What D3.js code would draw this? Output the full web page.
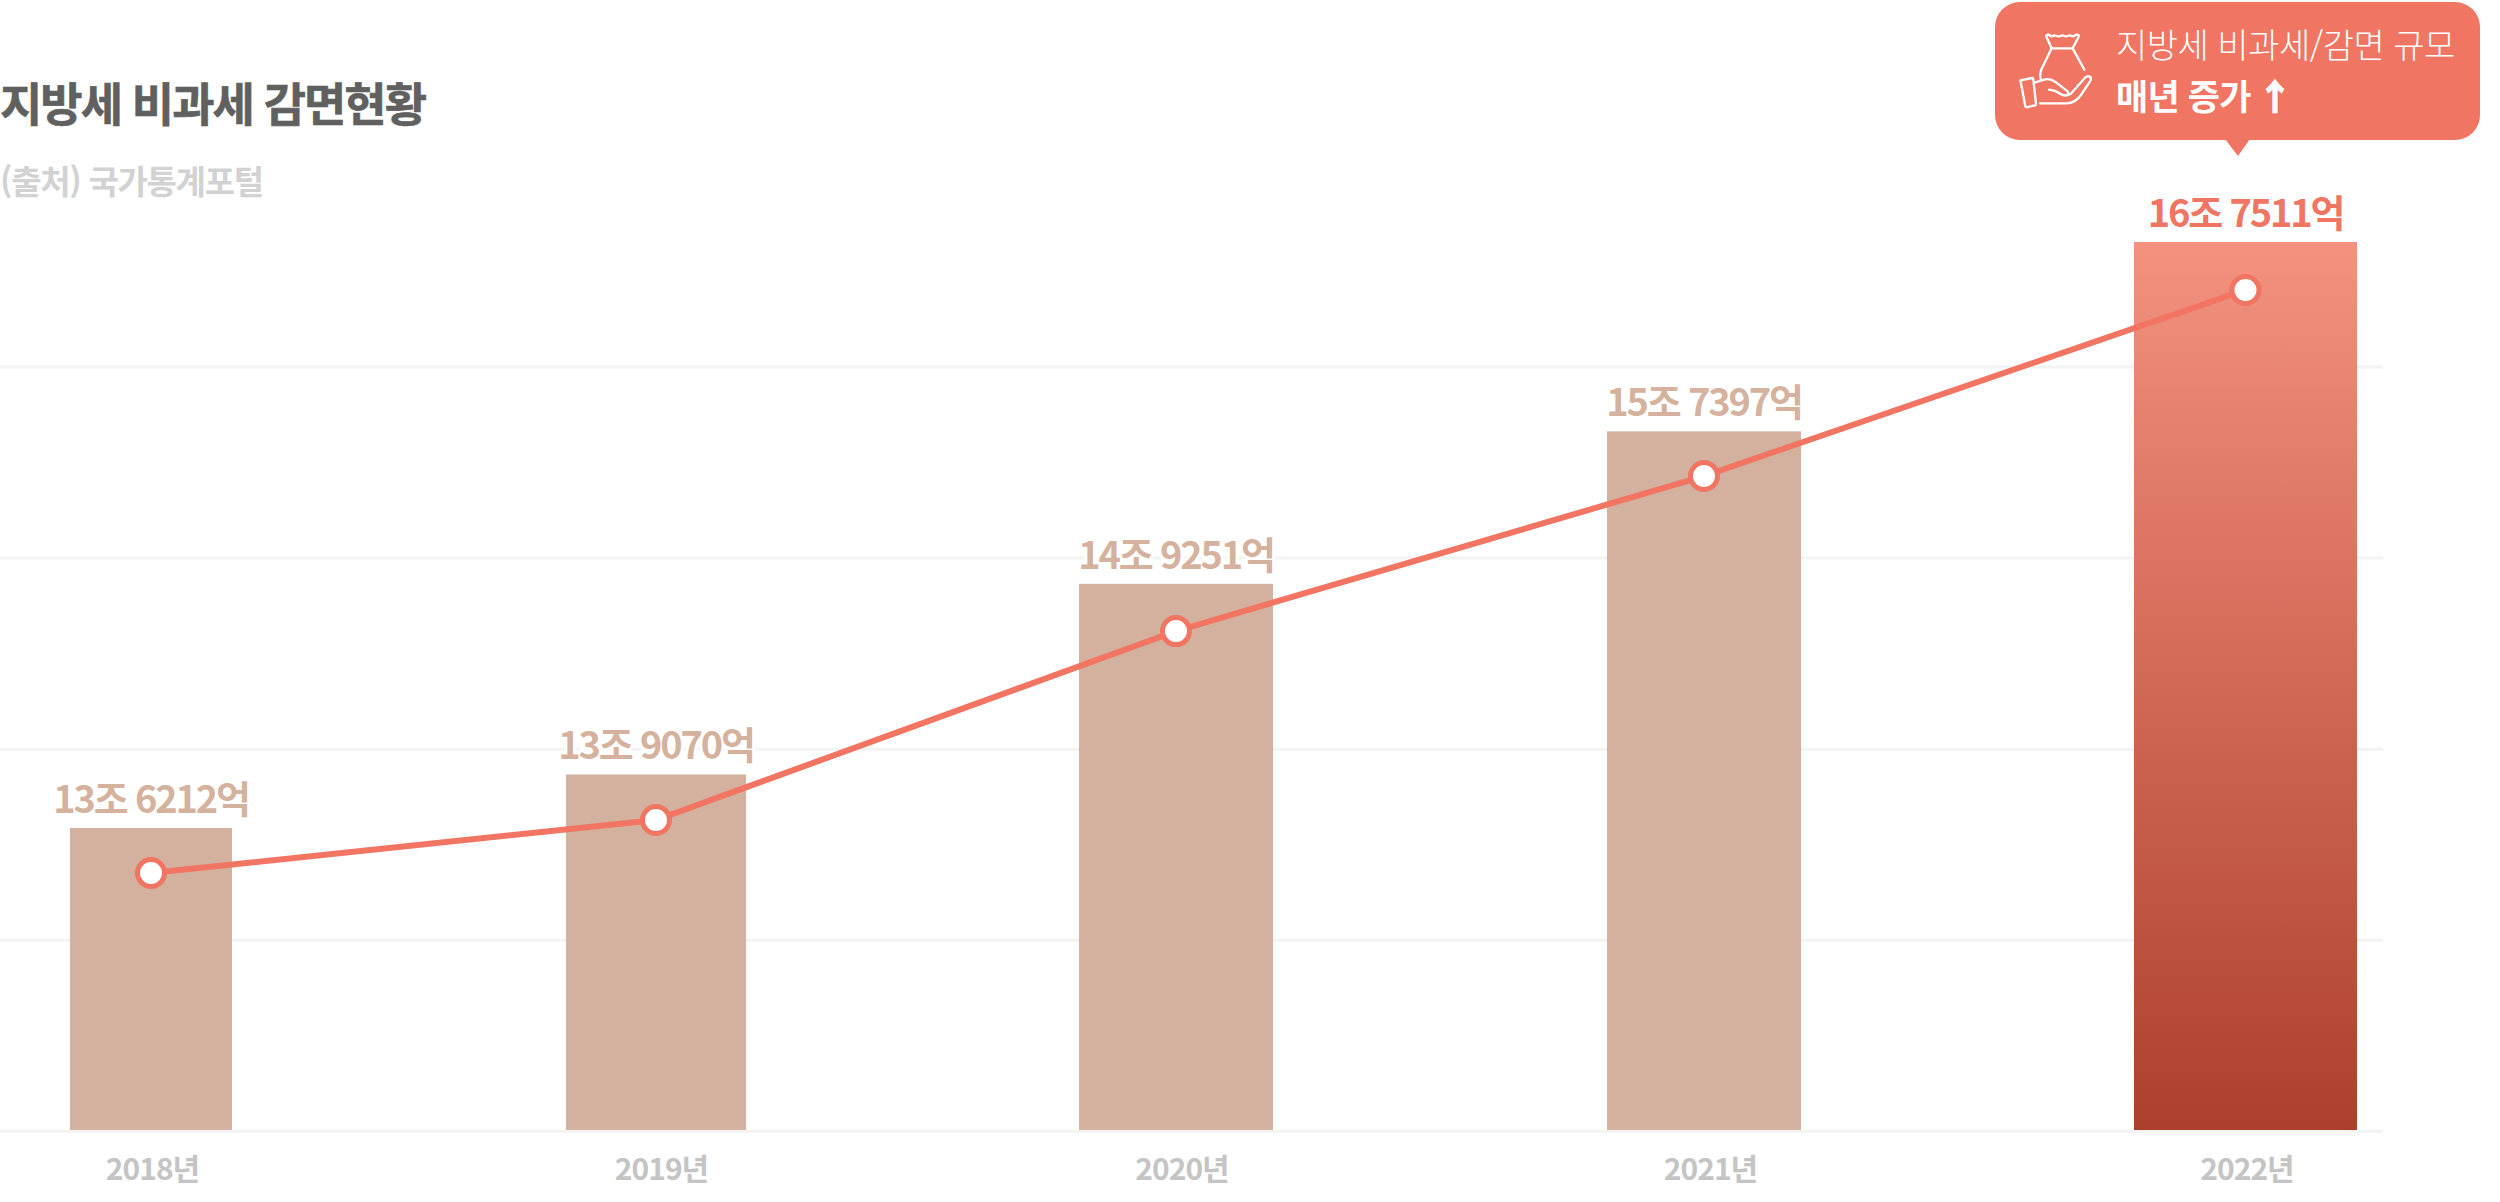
<!DOCTYPE html>
<html lang="ko">
<head>
<meta charset="utf-8">
<title>지방세 비과세 감면현황</title>
<script src="https://cdn.jsdelivr.net/npm/d3@7"></script>
<style>
    html, body { margin: 0; padding: 0; background: #fff; }
    svg { display: block; }
    text { font-family: "Noto Sans CJK KR", "Noto Sans", sans-serif; }
</style>
</head>
<body>
<div id="chart"></div>
<script>
// 단위: 억원
const years = ["2018", "2019", "2020", "2021", "2022"];
const barValues = [136212, 139070, 149251, 157397, 167511];
const barLabels = ["13조 6212억", "13조 9070억", "14조 9251억", "15조 7397억", "16조 7511억"];
// 꺾은선은 값 표기가 없어서 그림에서 읽은 값
const lineValues = [133810, 136640, 146730, 155010, 164950];
const gridTicks = [0, 1, 2, 3, 4];

document.addEventListener("DOMContentLoaded", function () {
    const width = 2500;
    const height = 1202;
    const barColor = "#d3b19e";
    const accent = "#f07562";

    const svg = d3.select("#chart").append("svg")
        .attr("width", width)
        .attr("height", height);

    // 막대 간격이 일정하지 않아서 ordinal 로 잡음
    const xCenter = d3.scaleOrdinal().domain(years).range([151, 656, 1176, 1704, 2245.5]);
    const xWidth = d3.scaleOrdinal().domain(years).range([162, 180, 194, 194, 223]);
    const xLabel = d3.scaleOrdinal().domain(years).range([152.5, 661.5, 1182, 1710.5, 2247]);
    const y = d3.scaleLinear().domain([120082, 167511]).range([1130, 242]);
    const gridY = d3.scaleLinear().domain([0, 4]).range([1131.3, 367]);

    const defs = svg.append("defs");
    const gradient = defs.append("linearGradient")
        .attr("id", "bar-gradient")
        .attr("x1", "0%")
        .attr("y1", "0%")
        .attr("x2", "0%")
        .attr("y2", "100%");
    gradient.selectAll("stop")
        .data([
            { offset: "0%", color: "#f4917f" },
            { offset: "100%", color: "#ad402d" }
        ])
        .enter()
        .append("stop")
        .attr("offset", d => d.offset)
        .attr("stop-color", d => d.color);

    // 격자선
    const grid = svg.append("g")
        .call(d3.axisRight(gridY).tickValues(gridTicks).tickSize(2383).tickFormat("").offset(0));
    grid.select(".domain").remove();
    grid.selectAll("line").attr("stroke", "#f3f3f3").attr("stroke-width", 3);

    // 제목
    svg.append("text")
        .attr("x", 0)
        .attr("y", 121)
        .attr("font-size", 46)
        .attr("font-weight", 700)
        .attr("letter-spacing", -2)
        .attr("fill", "#606060")
        .attr("stroke", "#606060")
        .attr("stroke-width", 0.6)
        .text("지방세 비과세 감면현황");

    svg.append("text")
        .attr("x", 0)
        .attr("y", 194)
        .attr("font-size", 33)
        .attr("font-weight", 700)
        .attr("letter-spacing", -1.3)
        .attr("fill", "#d2d2d2")
        .text("(출처) 국가통계포털");

    // 막대
    svg.selectAll(".bar")
        .data(years)
        .join("rect")
        .attr("class", "bar")
        .attr("x", d => xCenter(d) - xWidth(d) / 2)
        .attr("y", (d, i) => y(barValues[i]))
        .attr("width", d => xWidth(d))
        .attr("height", (d, i) => y.range()[0] - y(barValues[i]))
        .attr("fill", (d, i) => i === years.length - 1 ? "url(#bar-gradient)" : barColor);

    // 값 표기 (흰 테두리가 격자선을 가림)
    svg.selectAll(".label")
        .data(years)
        .join("text")
        .attr("class", "label")
        .attr("x", d => xCenter(d))
        .attr("y", (d, i) => y(barValues[i]) - 15)
        .attr("text-anchor", "middle")
        .attr("font-size", 38)
        .attr("font-weight", 700)
        .attr("letter-spacing", -2.2)
        .attr("fill", (d, i) => i === years.length - 1 ? accent : "#d5b29e")
        .attr("stroke", "#fff")
        .attr("stroke-width", 6)
        .attr("paint-order", "stroke")
        .text((d, i) => barLabels[i]);

    // 꺾은선
    const line = d3.line()
        .x(d => xCenter(d))
        .y((d, i) => y(lineValues[i]));

    svg.append("path")
        .datum(years)
        .attr("d", line)
        .attr("fill", "none")
        .attr("stroke", "#f17562")
        .attr("stroke-width", 6);

    svg.selectAll(".point")
        .data(years)
        .join("circle")
        .attr("class", "point")
        .attr("cx", d => xCenter(d))
        .attr("cy", (d, i) => y(lineValues[i]))
        .attr("r", 13.5)
        .attr("fill", "#fff")
        .attr("stroke", "#f17562")
        .attr("stroke-width", 5);

    // x축
    const xAxis = svg.append("g")
        .attr("transform", "translate(0, 1131)")
        .call(d3.axisBottom(xLabel).tickSize(0).tickPadding(0).tickFormat(d => d + "년").offset(0));
    xAxis.select(".domain").remove();
    xAxis.selectAll("text")
        .attr("dy", null)
        .attr("y", 49)
        .attr("font-size", 30)
        .attr("font-weight", 700)
        .attr("letter-spacing", -1)
        .attr("fill", "#c4c4c4")
        .style("font-family", "\"Noto Sans CJK KR\", sans-serif");

    // 말풍선
    const callout = svg.append("g");
    callout.append("rect")
        .attr("x", 1995)
        .attr("y", 2)
        .attr("width", 485)
        .attr("height", 138)
        .attr("rx", 25)
        .attr("fill", accent);
    callout.append("path")
        .attr("d", "M2225 139L2238 156L2250 139Z")
        .attr("fill", accent);

    callout.append("text")
        .attr("x", 2116)
        .attr("y", 58)
        .attr("font-size", 34)
        .attr("font-weight", 300)
        .attr("letter-spacing", -0.5)
        .attr("fill", "#fff")
        .text("지방세 비과세/감면 규모");
    const growth = callout.append("text")
        .attr("x", 2116)
        .attr("y", 110)
        .attr("font-size", 35)
        .attr("font-weight", 700)
        .attr("letter-spacing", -0.8)
        .attr("fill", "#fff")
        .text("매년 증가 ");
    growth.append("tspan")
        .attr("stroke", "#fff")
        .attr("stroke-width", 1.5)
        .attr("dx", -2)
        .text("↑");

    // 돈주머니 아이콘
    const icon = callout.append("g")
        .attr("transform", "translate(2000, 20) scale(0.3333)")
        .attr("fill", "none")
        .attr("stroke", "#fff")
        .attr("stroke-width", 7)
        .attr("stroke-linecap", "round")
        .attr("stroke-linejoin", "round");
    icon.selectAll("path")
        .data([
            "M155 85L139 50Q138 43 146 44Q154 52 164 46Q175 52 187 46Q198 52 209 46Q220 52 229 44Q238 43 236 50L218 85Z",
            "M155 85L128 140Q117 160 122 178",
            "M218 85L253 149",
            "M62 181L96 174Q99 174 100 178L108 252Q108 255 105 256L80 262Q76 262 76 259L62 185Q61 182 62 181Z",
            "M106 187L135 178Q152 175 168 187L203 214Q208 222 198 226Q190 228 182 222Q165 210 147 209",
            "M200 226L212 222L255 173Q265 165 272 172Q274 178 270 184L245 222Q226 250 200 250L120 250"
        ])
        .join("path")
        .attr("d", d => d);
});
</script>
</body>
</html>
